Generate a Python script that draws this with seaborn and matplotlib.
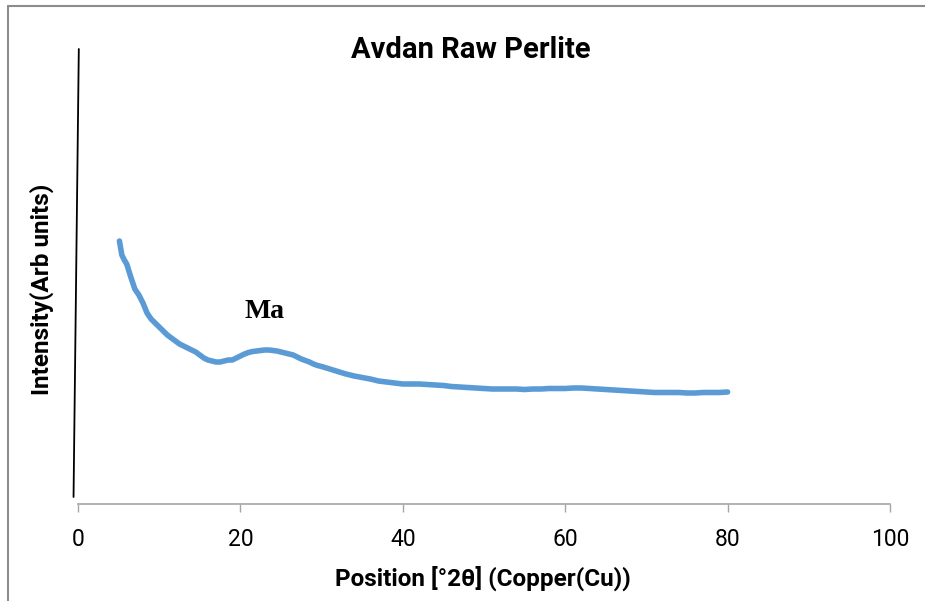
import numpy as np
import pandas as pd
import matplotlib
matplotlib.use("Agg")
import matplotlib.pyplot as plt
from matplotlib.lines import Line2D
import seaborn as sns

# 2-theta positions (degrees) and intensity (arbitrary units)
two_theta = [5.1, 5.4, 5.7, 6.0, 6.5, 7.0, 7.5, 8.0, 8.5, 9.0, 9.5, 10.0, 10.5,
             11.0, 11.5, 12.0, 12.5, 13.0, 13.5, 14.0, 14.5, 15.0, 15.5, 16.0,
             16.5, 17.0, 17.5, 18.0, 18.5, 19.0, 19.5, 20.0, 20.5, 21.0, 21.5,
             22.0, 22.5, 23.0, 23.5, 24.0, 24.5, 25.0, 25.5, 26.0, 26.5, 27.0,
             27.5, 28.0, 28.5, 29.0, 29.5, 30.0, 31, 32, 33, 34, 35, 36, 37, 38,
             39, 40, 41, 42, 43, 44, 45, 46, 47, 48, 49, 50, 51, 52, 53, 54, 55,
             56, 57, 58, 59, 60, 61, 62, 63, 64, 65, 66, 67, 68, 69, 70, 71, 72,
             73, 74, 75, 76, 77, 78, 79, 80]
intensity = [263, 249, 244, 240, 227, 215, 209, 201, 191, 185, 181, 177, 173,
             169, 166, 163, 160, 158, 156, 154, 152, 149, 146, 144,
             143, 142, 142, 143, 144, 144, 146, 148, 150, 151.5, 152.5,
             153, 153.5, 154, 154, 153.5, 153, 152, 151, 150, 149, 147,
             145, 143.5, 142, 140, 138.5, 137.5, 135, 132.5, 130, 128, 126.5, 125, 123, 122,
             121, 120, 120, 120, 119.5, 119, 118.5, 117.5, 117, 116.5, 116, 115.5, 115, 115, 115, 115, 114.5,
             115, 115, 115.5, 115.5, 115.5, 116, 116, 115.5, 115, 114.5, 114, 113.5, 113, 112.5, 112, 111.5, 111.5,
             111.5, 111.5, 111, 111, 111.5, 111.5, 111.5, 112]

x_ticks = [0, 20, 40, 60, 80, 100]
title = "Avdan Raw Perlite"
x_label = "Position [°2θ] (Copper(Cu))"
y_label = "Intensity(Arb units)"
peak_label = "Ma"

df = pd.DataFrame({"two_theta": two_theta, "intensity": intensity})

sns.set_theme(style="white")
plt.rcParams['font.family'] = ['Roboto', 'DejaVu Sans']
plt.rcParams['text.color'] = 'black'
plt.rcParams['axes.labelcolor'] = 'black'

fig = plt.figure(figsize=(9.25, 6.01), dpi=100)
ax = fig.add_axes([78 / 925, 97 / 601, 812 / 925, 455 / 601])

sns.lineplot(data=df, x="two_theta", y="intensity", ax=ax,
             color="#5b9bd5", linewidth=4.0)

ax.set_xlim(0, 100)
ax.set_ylim(0, 455)
ax.set_xticks(x_ticks)
ax.set_yticks([])
ax.tick_params(axis="x", length=6, width=1, color="#a6a6a6", pad=11,
               labelsize=16.5, labelcolor="black", bottom=True)

for s in ["left", "top", "right"]:
    ax.spines[s].set_visible(False)
ax.spines["bottom"].set_color("#a6a6a6")
ax.spines["bottom"].set_linewidth(1.2)

# slanted vertical axis line as in the original
ax.add_line(Line2D([0.001, -0.0055], [1.0, 0.0154], transform=ax.transAxes,
                   color="black", linewidth=1.3, clip_on=False))

ax.set_title(title, x=0.484, y=0.98, va="center", fontsize=21,
             fontweight="bold", color="black")
ax.set_xlabel(x_label, fontsize=17.5, fontweight="bold", va="center", color="black")
ax.xaxis.set_label_coords(0.4988, -0.1626)
ax.set_ylabel(y_label, fontsize=17.5, fontweight="bold", va="center", color="black")
ax.yaxis.set_label_coords(-0.0447, 0.4725)

ax.text(22.97, 192, peak_label, ha="center", va="center", fontsize=20,
        fontweight="bold", color="black", family=["Liberation Serif", "DejaVu Serif"])

# grey frame on the left and top edges
fig.add_artist(Line2D([8 / 925, 8 / 925], [0, 1 - 6 / 601], color="#8c8c8c", linewidth=1.5))
fig.add_artist(Line2D([8 / 925, 1], [1 - 6 / 601, 1 - 6 / 601], color="#8c8c8c", linewidth=1.5))

fig.savefig("out.png", dpi=100)
